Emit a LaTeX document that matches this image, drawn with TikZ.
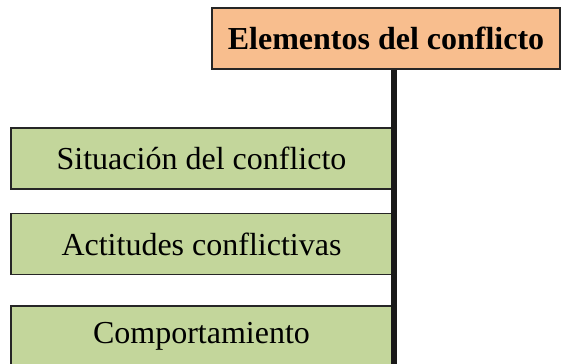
\documentclass[tikz,border=0pt]{standalone}
\usepackage{fontspec}
\setmainfont{Liberation Serif}
\definecolor{naranja}{HTML}{F8BE8E}
\definecolor{verde}{HTML}{C3D69B}
\begin{document}
\begin{tikzpicture}[x=1pt,y=1pt,
	titulo/.style={draw=black!85,line width=1.5pt,fill=naranja,minimum width=348pt,minimum height=61pt,inner sep=0pt,font=\fontsize{32}{38}\selectfont\bfseries},
	elemento/.style={draw=black!85,line width=1.5pt,fill=verde,minimum width=381pt,minimum height=61pt,inner sep=0pt,font=\fontsize{32}{38}\selectfont}]
	\clip (0,0) rectangle (563,-364);
	\node[titulo] (titulo) at (386,-38.5) {Elementos del conflicto};
	\node[elemento] (situacion) at (201.5,-158.5) {Situación del conflicto};
	\node[elemento] (actitudes) at (201.5,-244) {Actitudes conflictivas};
	\node[elemento] (comportamiento) at (201.5,-336.5) {Comportamiento};
	\coordinate (fin) at (394,-364);
	\draw[line width=6pt,black!90] (titulo.south -| fin) -- (fin);
\end{tikzpicture}
\end{document}
